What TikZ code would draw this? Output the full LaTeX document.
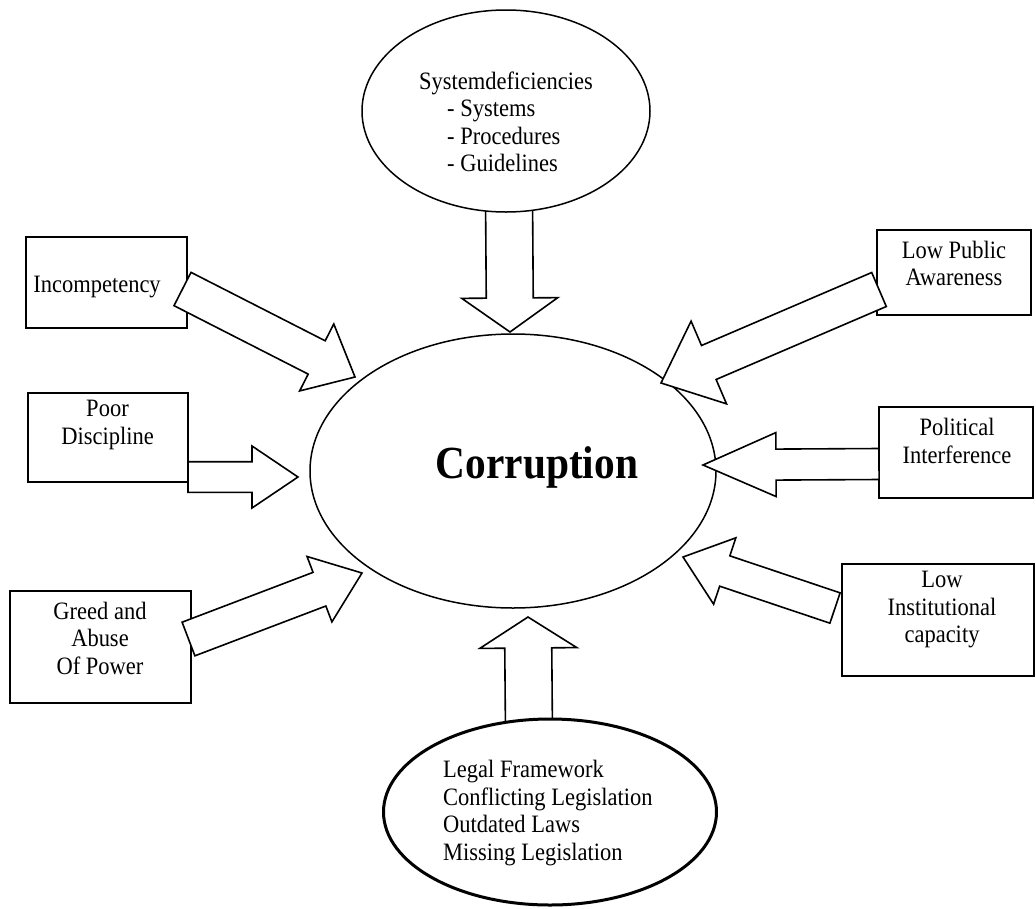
\documentclass[tikz,border=0pt]{standalone}
\usepackage{fontspec}
\setmainfont{Liberation Serif}[FakeStretch=0.9]
\usetikzlibrary{shapes.geometric}
\newdimen\bAx \newdimen\bAy \newdimen\bBx \newdimen\bBy
\newcommand\blockarrow[5]{%
  \pgfextractx{\bAx}{\pgfpointanchor{#1}{center}}%
  \pgfextracty{\bAy}{\pgfpointanchor{#1}{center}}%
  \pgfextractx{\bBx}{\pgfpointanchor{#2}{center}}%
  \pgfextracty{\bBy}{\pgfpointanchor{#2}{center}}%
  \edef\bax{\the\bAx}\edef\bay{\the\bAy}%
  \edef\bbx{\the\bBx}\edef\bby{\the\bBy}%
  \pgfmathsetmacro\bAng{atan2(\bby-\bay,\bbx-\bax)}%
  \pgfmathsetmacro\bLen{veclen(\bbx-\bax,\bby-\bay)}%
  \pgfmathsetmacro\bNeck{\bLen-#5}%
  \draw[arrowshape, shift={(\bax,\bay)}, rotate=\bAng]
    (0pt,#3pt) -- (\bNeck pt,#3pt) -- (\bNeck pt,#4pt) -- (\bLen pt,0pt)
    -- (\bNeck pt,-#4pt) -- (\bNeck pt,-#3pt) -- (0pt,-#3pt) -- cycle;
}
\tikzset{
  box/.style={draw, line width=1.8pt, rectangle, inner sep=0pt, fill=white},
  oval/.style={draw, line width=1.5pt, ellipse, inner sep=0pt, fill=white},
  arrowshape/.style={draw, line width=1.6pt, fill=white, line join=miter},
  txt/.style={inner sep=0pt, align=center, font=\fontsize{25}{27.5}\selectfont},
}
\begin{document}
\begin{tikzpicture}[x=1pt,y=-1pt]
\useasboundingbox (0,0) rectangle (1036,908);
\fill[white] (0,0) rectangle (1036,908);

% main ellipse
\node[oval, minimum width=406, minimum height=274] (main) at (513,471) {};
\node[inner sep=0pt, font=\fontsize{46}{50}\selectfont\bfseries] (maintxt) at (537,467) {Corruption};

% boxes
\node[box, minimum width=161, minimum height=91] (inc) at (106.5,282.5) {};
\node[box, minimum width=160, minimum height=89] (poor) at (108,437.5) {};
\node[box, minimum width=181, minimum height=112] (greed) at (100.5,647) {};
\node[box, minimum width=154, minimum height=85] (lowpub) at (954,272.5) {};
\node[box, minimum width=154, minimum height=91] (polit) at (956,452.5) {};
\node[box, minimum width=192, minimum height=112] (lowinst) at (938,620) {};

\node[txt] (inctxt) at (97,287) {Incompetency};
\node[txt] (poortxt) at (107.5,425) {Poor\\Discipline};
\node[txt] (greedtxt) at (100,638) {Greed and\\Abuse\\Of Power};
\node[txt] (lowpubtxt) at (954,263.5) {Low Public\\Awareness};
\node[txt] (polittxt) at (957,441) {Political\\Interference};
\node[txt] (lowinsttxt) at (942,610) {Low\\Institutional\\capacity};

% arrow end points
\coordinate (t1) at (509,195);   \coordinate (p1) at (510,332);
\coordinate (t2) at (529,735);   \coordinate (p2) at (528,617);
\coordinate (t3) at (182.5,289); \coordinate (p3) at (355,377);
\coordinate (t4) at (188,477);   \coordinate (p4) at (298,477);
\coordinate (t5) at (188.5,639); \coordinate (p5) at (362,573);
\coordinate (t6) at (879,289.5); \coordinate (p6) at (661,383);
\coordinate (t7) at (879,464);   \coordinate (p7) at (703,465);
\coordinate (t8) at (835,608);   \coordinate (p8) at (683,557);

\blockarrow{t1}{p1}{23.5}{48}{34}
\blockarrow{t2}{p2}{23.5}{48.5}{31}
\blockarrow{t3}{p3}{18.7}{37.6}{43}
\blockarrow{t4}{p4}{15.3}{31}{46}
\blockarrow{t5}{p5}{18}{35}{45.5}
\blockarrow{t6}{p6}{18.5}{45}{52}
\blockarrow{t7}{p7}{15.5}{32}{73}
\blockarrow{t8}{p8}{16}{35}{44}

% top and bottom ellipses
\node[oval, minimum width=288, minimum height=202] (sys) at (506,111) {};
\node[txt, align=left, anchor=west] (systxt) at (419,122)
  {Systemdeficiencies\\\hspace*{28pt}- Systems\\\hspace*{28pt}- Procedures\\\hspace*{28pt}- Guidelines};
\node[oval, line width=3pt, minimum width=333, minimum height=186] (legal) at (550,812) {};
\node[txt, align=left, anchor=west] (legaltxt) at (443,813)
  {Legal Framework\\Conflicting Legislation\\Outdated Laws\\Missing Legislation};
\end{tikzpicture}
\end{document}
